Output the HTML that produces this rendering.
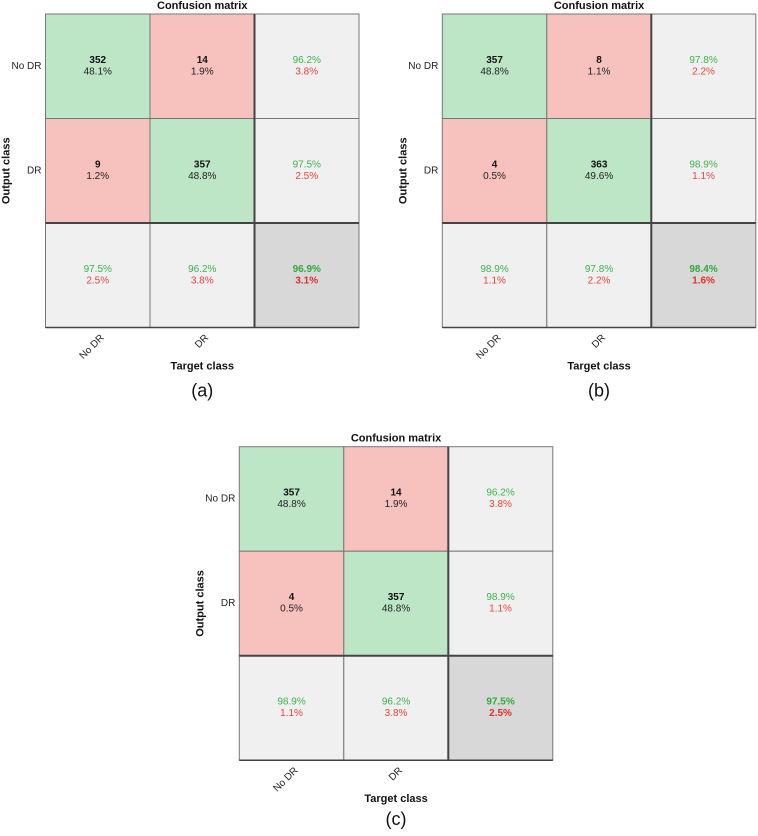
<!DOCTYPE html>
<html><head><meta charset="utf-8"><style>
body{margin:0;background:#fff;width:758px;height:831px;overflow:hidden}
svg text{font-family:"Liberation Sans",Arial,sans-serif}
</style></head><body>
<svg id="fig" width="758" height="831" xmlns="http://www.w3.org/2000/svg"></svg>
<script>
const classes = ["No DR","DR"];
const countsA = [[352,14],[9,357]];
const pctA = ["48.1%","1.9%","1.2%","48.8%"];
const rowSumA = [["96.2%","3.8%"],["97.5%","2.5%"]];
const colSumA = [["97.5%","2.5%"],["96.2%","3.8%"]];
const totalA = ["96.9%","3.1%"];
const countsB = [[357,8],[4,363]];
const pctB = ["48.8%","1.1%","0.5%","49.6%"];
const rowSumB = [["97.8%","2.2%"],["98.9%","1.1%"]];
const colSumB = [["98.9%","1.1%"],["97.8%","2.2%"]];
const totalB = ["98.4%","1.6%"];
const countsC = [[357,14],[4,357]];
const pctC = ["48.8%","1.9%","0.5%","48.8%"];
const rowSumC = [["96.2%","3.8%"],["98.9%","1.1%"]];
const colSumC = [["98.9%","1.1%"],["96.2%","3.8%"]];
const totalC = ["97.5%","2.5%"];

const NS="http://www.w3.org/2000/svg";
const svg=document.getElementById('fig');
function mk(tag,attrs,parent){const e=document.createElementNS(NS,tag);for(const k in attrs)e.setAttribute(k,attrs[k]);(parent||svg).appendChild(e);return e;}
function txt(p,x,y,s,opts){const t=mk('text',Object.assign({x:x,y:y,'text-anchor':'middle','dominant-baseline':'central','font-size':10},opts),p);t.textContent=s;return t;}
const C=104.5, GREEN="#bde6c6", RED="#f7c2be", GRAY="#f0f0f0", DARK="#d8d8d8", GT="#3cb44b", RT="#e8453c";

function panel(id,L,T,counts,pct,rowSum,colSum,total,cap,capOff){
  const g=mk('g',{});
  
  
  const cx=j=>L+C*j, cy=i=>T+C*i;
  for(let i=0;i<2;i++)for(let j=0;j<2;j++){
    const r=mk('rect',{x:cx(j),y:cy(i),width:C,height:C,fill:i===j?GREEN:RED,stroke:'#777','stroke-width':1},g);
    
    
    txt(g,cx(j)+C/2,cy(i)+C/2-6,String(counts[i][j]),{'font-weight':'bold',fill:'#111'});
    txt(g,cx(j)+C/2,cy(i)+C/2+5.5,pct[i*2+j],{fill:'#222'});
  }
  for(let i=0;i<2;i++){
    const r=mk('rect',{x:cx(2),y:cy(i),width:C,height:C,fill:GRAY,stroke:'#777','stroke-width':1},g);
    
    
    txt(g,cx(2)+C/2,cy(i)+C/2-6,rowSum[i][0],{fill:GT});
    txt(g,cx(2)+C/2,cy(i)+C/2+5.5,rowSum[i][1],{fill:RT});
  }
  for(let j=0;j<2;j++){
    const r=mk('rect',{x:cx(j),y:cy(2),width:C,height:C,fill:GRAY,stroke:'#777','stroke-width':1},g);
    
    
    txt(g,cx(j)+C/2,cy(2)+C/2-6,colSum[j][0],{fill:GT});
    txt(g,cx(j)+C/2,cy(2)+C/2+5.5,colSum[j][1],{fill:RT});
  }
  const tr=mk('rect',{x:cx(2),y:cy(2),width:C,height:C,fill:DARK,stroke:'#777','stroke-width':1},g);
  
  
  txt(g,cx(2)+C/2,cy(2)+C/2-6,total[0],{fill:'#2eaa3c','font-weight':'bold'});
  txt(g,cx(2)+C/2,cy(2)+C/2+5.5,total[1],{fill:'#e0302a','font-weight':'bold'});
  mk('line',{x1:cx(2),y1:T,x2:cx(2),y2:T+3*C,stroke:'#444','stroke-width':2},g);
  mk('line',{x1:L,y1:cy(2),x2:L+3*C,y2:cy(2),stroke:'#444','stroke-width':2},g);
  mk('line',{x1:L,y1:T+3*C,x2:L+3*C,y2:T+3*C,stroke:'#444','stroke-width':1.5},g);
  const ti=txt(g,L+1.5*C,T-8,'Confusion matrix',{'font-weight':'bold','font-size':11,fill:'#111'});
  
  for(let i=0;i<2;i++){
    const yl=txt(g,L-4,cy(i)+C/2,classes[i],{'text-anchor':'end',fill:'#222'});
    
    const ax=cx(i)+C/2+5, ay=T+3*C+9;
    const xl=txt(g,ax,ay,classes[i],{'text-anchor':'end',fill:'#222',transform:'rotate(-45 '+ax+' '+ay+')'});
    
  }
  const yt=txt(g,L-39,T+1.5*C,'Output class',{'font-weight':'bold','font-size':11,fill:'#111',transform:'rotate(-90 '+(L-39)+' '+(T+1.5*C)+')'});
  
  const xt=txt(g,L+1.5*C,T+3*C+39,'Target class',{'font-weight':'bold','font-size':11,fill:'#111'});
  
  const cp=txt(g,L+1.5*C,T+3*C+capOff,cap,{'font-size':18,fill:'#111'});
  
}
panel('a',45.5,14,countsA,pctA,rowSumA,colSumA,totalA,'(a)',63);
panel('b',442.3,14,countsB,pctB,rowSumB,colSumB,totalB,'(b)',63);
panel('c',239.3,446.7,countsC,pctC,rowSumC,colSumC,totalC,'(c)',59);
</script>
</body></html>
